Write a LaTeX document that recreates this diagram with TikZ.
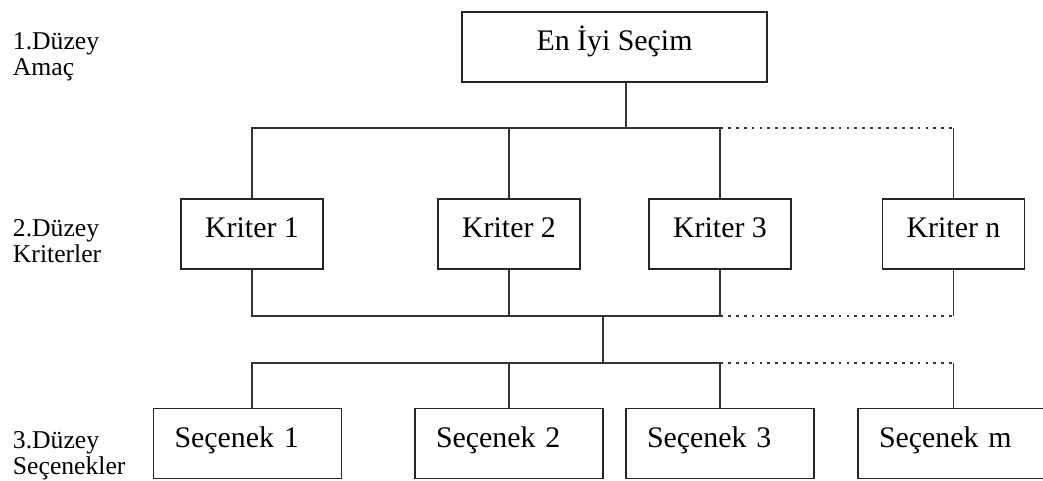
\documentclass[tikz,border=0pt]{standalone}
\usepackage{fontspec}
\setmainfont{Liberation Serif}
\usetikzlibrary{calc}

\begin{document}
\begin{tikzpicture}[x=0.02cm, y=-0.02cm, line width=1.1pt,
  kutu/.style={draw=black!85, rectangle, minimum height=1.4cm, inner sep=0pt,
    text height=0.7em, text depth=0.3em, font=\fontsize{17}{20}\selectfont},
  kriter/.style={kutu, minimum width=2.84cm},
  secenek/.style={kutu, minimum width=3.76cm, text width=2.92cm, align=left},
  duzey/.style={anchor=base west, align=left, inner sep=0pt,
    font=\fontsize{14.6}{14.6}\selectfont},
  hat/.style={draw=black!80},
  noktali/.style={draw=black!80, dash pattern=on 1.6pt off 2.9pt}]
  % sayfa sınırı (görüntü 1043x480)
  \useasboundingbox (0,0) rectangle (1043,480);
  \clip (0,0) rectangle (1043,480);

  % düzey yazıları (taban çizgisi = ikinci satır)
  \node[duzey] (lv1) at (12,75)  {1.Düzey\\Amaç};
  \node[duzey] (lv2) at (12,262) {2.Düzey\\Kriterler};
  \node[duzey] (lv3) at (12,474) {3.Düzey\\Seçenekler};

  % 1. düzey: amaç
  \node[kutu, minimum width=6.1cm] (amac) at (614.5,47) {En İyi Seçim};

  % 2. düzey: kriterler
  \node[kriter] (k1) at (252,234)   {Kriter 1};
  \node[kriter] (k2) at (509,234)   {Kriter 2};
  \node[kriter] (k3) at (720,234)   {Kriter 3};
  \node[kriter] (kn) at (953.5,234) {Kriter n};

  % 3. düzey: seçenekler
  \node[secenek] (s1) at (247.5,443.5) {Seçenek 1};
  \node[secenek] (s2) at (509,443.5)   {Seçenek 2};
  \node[secenek] (s3) at (720,443.5)   {Seçenek 3};
  \node[secenek] (sm) at (952,443.5)   {Seçenek m};

  % bağlantı noktaları
  \coordinate (b1) at (626,128);
  \coordinate (b2) at (603,316);
  \coordinate (b3) at (603,363);

  % amaç -- kriterler
  \draw[hat] (b1 |- amac.south) -- (b1);
  \draw[hat] (k1.north) |- (b1) -- (b1 -| k3.north) -- (k3.north);
  \draw[hat] (k2.north) -- (k2.north |- b1);
  \draw[noktali] (b1 -| k3.north) -- (b1 -| kn.north);
  \draw[hat] (kn.north) -- (kn.north |- b1);

  % kriterler -- toplama hattı
  \draw[hat] (k1.south) |- (b2) -- (b2 -| k3.south) -- (k3.south);
  \draw[hat] (k2.south) -- (k2.south |- b2);
  \draw[noktali] (b2 -| k3.south) -- (b2 -| kn.south);
  \draw[hat] (kn.south) -- (kn.south |- b2);
  \draw[hat] (b2) -- (b3);

  % toplama hattı -- seçenekler
  \draw[hat] (s1.north -| k1.south) |- (b3) -- (b3 -| k3.south) -- (s3.north -| k3.south);
  \draw[hat] (s2.north) -- (s2.north |- b3);
  \draw[noktali] (b3 -| k3.south) -- (b3 -| kn.south);
  \draw[hat] (sm.north -| kn.south) -- (b3 -| kn.south);
\end{tikzpicture}
\end{document}
